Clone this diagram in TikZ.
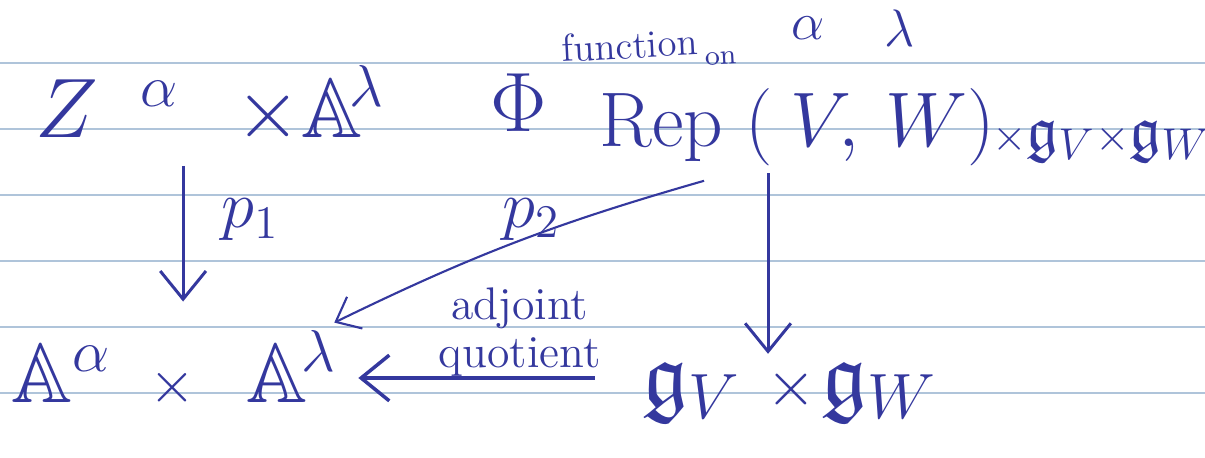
\RequirePackage{fix-cm}
\documentclass[tikz,border=0pt]{standalone}
\usepackage{amsmath}
\usepackage{amssymb}
\usepackage{tikz}
\usetikzlibrary{arrows.meta}

\definecolor{ink}{RGB}{52,56,158}
\definecolor{ruling}{RGB}{175,196,218}

\begin{document}
\begin{tikzpicture}[
            x=0.01cm, y=-0.01cm,
            >={Straight Barb[length=8pt,width=13pt]},
            map/.style={->, ink, line width=0.85pt},
            rule/.style={ruling, line width=0.5pt},
            obj/.style={ink, inner sep=2pt, font=\fontsize{24}{28}\selectfont},
            big/.style={ink, inner sep=2pt, font=\fontsize{22}{26}\selectfont},
            gbig/.style={ink, inner sep=2pt, font=\fontsize{26}{30}\selectfont},
            sub/.style={ink, inner sep=1pt, font=\fontsize{18}{20}\selectfont},
            sup/.style={ink, inner sep=1pt, font=\fontsize{15}{17}\selectfont},
            lbl/.style={ink, inner sep=2pt, font=\fontsize{19}{22}\selectfont},
            note/.style={ink, inner sep=1pt, align=center, font=\fontsize{13}{13.5}\selectfont}
        ]
        \useasboundingbox (0,0) rectangle (1205,457);
        \fill[white] (0,0) rectangle (1205,457);

        % 1. Ruled lines of the notebook page
        \draw[rule] (0,63) -- (1205,63);
        \draw[rule] (0,129) -- (1205,129);
        \draw[rule] (0,195) -- (1205,195);
        \draw[rule] (0,261) -- (1205,261);
        \draw[rule] (0,327) -- (1205,327);
        \draw[rule] (0,393) -- (1205,393);

        % --- TOP ROW ---
        \node[obj, anchor=base west] (za) at (28,137) {$Z\mkern9mu{}^{\alpha}\mkern12mu{\times}\mathbb{A}^{\mkern-4mu\lambda}$};
        \node[obj] (phi) at (519,103) {$\Phi$};
        \node[big, anchor=base west] (rep) at (592,146) {$\mathrm{Rep}$};
        \node[big, anchor=base west] (vw) at (738,146) {$(\mkern4mu V,\mkern3mu W)$};
        \node[sup] (alpha) at (808,28) {$\alpha$};
        \node[sup] (lambda) at (900,28) {$\lambda$};
        \node[sub, anchor=base west] (gtop) at (988,150) {${\scriptstyle\times}\mathfrak{g}_V{\scriptstyle\times}\mathfrak{g}_W$};
        \node[note, anchor=base west, rotate=3, inner sep=0pt] (fnon) at (562,62) {\fontsize{11}{12}\selectfont function\,\raisebox{-3pt}{\fontsize{8}{9}\selectfont on}};

        % --- BOTTOM ROW ---
        \node[obj, anchor=base west] (aa) at (4,402) {$\mathbb{A}^{\alpha}\mkern8mu{\scriptstyle\times}\mkern11mu\mathbb{A}^{\mkern-2mu\lambda}$};
        \node[gbig, anchor=base west] (gg) at (635,405) {$\mathfrak{g}_V\mkern5mu{\scriptstyle\times}\mkern1mu\mathfrak{g}_W$};

        % --- MAPS ---
        \draw[map, shorten <=4pt, shorten >=6pt] ([xshift=1.55cm]za.south west) -- ([xshift=1.55cm]za.south west |- aa.north) node[lbl, pos=0.4, right=0.3cm] {$p_1$};
        \draw[map, line width=0.6pt, -{Straight Barb[length=6pt,width=10pt]}] ([shift={(-0.27cm,-0.12cm)}]rep.south east) to[bend right=5] ([xshift=-0.1cm]aa.north east);
        \node[lbl] (ptwo) at (531,220) {$p_2$};
        \draw[map] ([xshift=0.3cm]vw.south west) -- ([xshift=0.3cm]vw.south west |- gg.north);
        \draw[map, line width=1pt, shorten >=4pt] ([shift={(-0.4cm,0.24cm)}]gg.west |- aa.base east) -- ([yshift=0.24cm]aa.base east) node[note, pos=0.3, above=-1pt] {adjoint\\quotient};

        \end{tikzpicture}
\end{document}
